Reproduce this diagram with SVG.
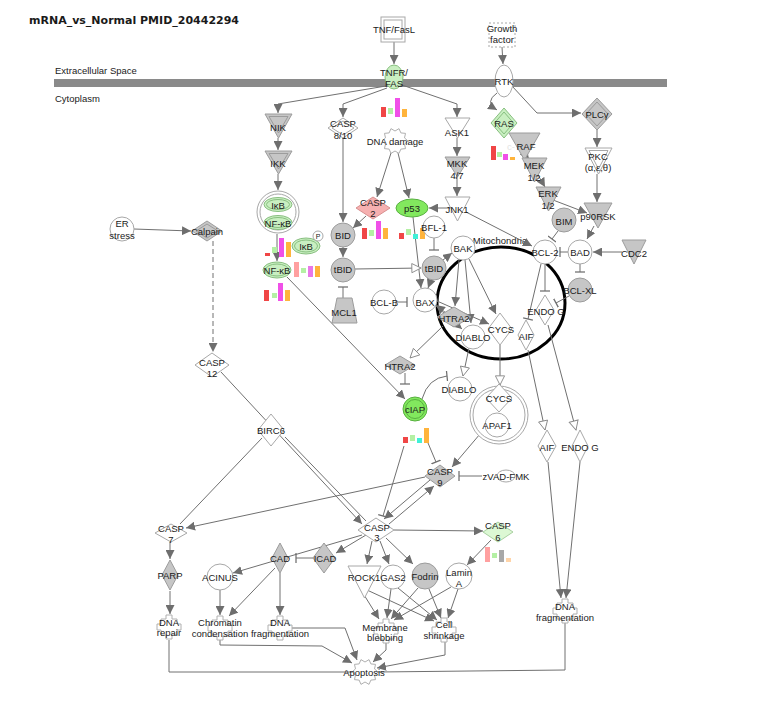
<svg xmlns="http://www.w3.org/2000/svg" width="771" height="722" viewBox="0 0 771 722">
<defs>
<style>
text{font-family:"Liberation Sans",Arial,sans-serif;font-size:9.5px;fill:#1a1a1a;text-anchor:middle}
.lbl{text-anchor:start}
.title{font-family:"DejaVu Sans",Verdana,sans-serif;font-size:11px;font-weight:bold;text-anchor:start}
.l{fill:none;stroke:#707070;stroke-width:1}
.ar{marker-end:url(#ah)}
.op{marker-end:url(#oh)}
.tt{marker-end:url(#tb)}
.dash{stroke-dasharray:5,3}
.g{fill:#c6c6c6;stroke:#9c9c9c;stroke-width:1}
.w{fill:#ffffff;stroke:#a8a8a8;stroke-width:1}
.lg{fill:#c9efc1;stroke:#88bf80;stroke-width:1}
.bg{fill:#82e85e;stroke:#58b040;stroke-width:1}
.pk{fill:#f6b0b0;stroke:#d89090;stroke-width:1}
.vg{fill:#dcf8d4;stroke:#a8d0a0;stroke-width:1}
.br{fill:#f04646}.bgr{fill:#b4f0a4}.bm{fill:#f050e8}.bo{fill:#ffb43c}.bp{fill:#ffa0a0}.bv{fill:#e878e8}.bc{fill:#40f0d8}.bgy{fill:#a8a8a8}.bpe{fill:#ffd4a8}
</style>
<marker id="ah" viewBox="0 0 10 10" refX="10" refY="5" markerWidth="9" markerHeight="9" markerUnits="userSpaceOnUse" orient="auto"><path d="M0,0 L10,5 L0,10 z" fill="#6e6e6e"/></marker>
<marker id="oh" viewBox="0 0 12 12" refX="11" refY="6" markerWidth="11" markerHeight="11" markerUnits="userSpaceOnUse" orient="auto"><path d="M1,1 L11,6 L1,11 z" fill="#ffffff" stroke="#888888" stroke-width="1"/></marker>
<marker id="tb" viewBox="0 0 4 12" refX="2" refY="6" markerWidth="4" markerHeight="10" markerUnits="userSpaceOnUse" orient="auto"><path d="M2,0 V12" stroke="#6e6e6e" stroke-width="1.5"/></marker>
<path id="fn" d="M-3,-12 H3 V-8 H8 V-3 H12 V3 H8 V8 H3 V12 H-3 V8 H-8 V3 H-12 V-3 H-8 V-8 H-3 Z" fill="#ffffff" stroke="#b0b0b0" stroke-width="1"/>
<polygon id="gear" points="13,0 9.51,3.09 10.52,7.64 5.88,8.09 4.02,12.36 0,10 -4.02,12.36 -5.88,8.09 -10.52,7.64 -9.51,3.09 -13,0 -9.51,-3.09 -10.52,-7.64 -5.88,-8.09 -4.02,-12.36 0,-10 4.02,-12.36 5.88,-8.09 10.52,-7.64 9.51,-3.09" fill="#ffffff" stroke="#b0b0b0" stroke-width="1"/>
</defs>
<rect width="771" height="722" fill="#ffffff"/>
<text class="title" x="29" y="24">mRNA_vs_Normal PMID_20442294</text>
<text class="lbl" x="55" y="73.5">Extracellular Space</text>
<rect x="54" y="79" width="613" height="8" fill="#8a8a8a"/>
<text class="lbl" x="55" y="101.5">Cytoplasm</text>

<ellipse id="mitochondria-outline" cx="501" cy="303" rx="64" ry="56" fill="none" stroke="#000000" stroke-width="3"/>
<text x="500" y="244">Mitochondria</text>

<g id="connectors">
<path class="l ar" d="M394,42 L394,64"/>
<path class="l ar" d="M502,47 L503,64"/>
<path class="l ar" d="M386,86 L278,104 L278,113"/>
<path class="l ar" d="M387,88 L343,104 L343,117"/>
<path class="l ar" d="M402,85 L457,104 L457,117"/>
<path class="l ar" d="M278,138 L278,150"/>
<path class="l ar" d="M278,174 L278,190"/>
<path class="l ar" d="M343,138 L343,222"/>
<path class="l ar" d="M391,153 L377,197"/>
<path class="l ar" d="M398,153 L409,198"/>
<path class="l ar" d="M457,138 L457,156"/>
<path class="l ar" d="M457,177 L457,196"/>
<path class="l ar" d="M450,208 L429,208"/>
<path class="l ar" d="M466,212 L532,246"/>
<path class="l ar" d="M497,93 Q484,102 497,110"/>
<path class="l ar" d="M512,86 L537,113 L581,113"/>
<path class="l ar" d="M522,150 L529,159"/>
<path class="l ar" d="M538,175 L545,187"/>
<path class="l ar" d="M553,200 L587,213"/>
<path class="l ar" d="M597,130 L597,147"/>
<path class="l ar" d="M597,174 L597,202"/>
<path class="l ar" d="M594,226 L587,239"/>
<path class="l tt" d="M558,231 L552,239"/>
<path class="l tt" d="M568,252 L560,252"/>
<path class="l ar" d="M622,252 L593,252"/>
<path class="l tt" d="M580,264 L580,272"/>
<path class="l tt" d="M545,264 L545,291"/>
<path class="l tt" d="M569,296 L556,303"/>
<path class="l tt" d="M541,264 L528,319"/>
<path class="l ar" d="M443,260 L452,253"/>
<path class="l tt" d="M434,238 L434,250"/>
<path class="l ar" d="M413,217 L421,288"/>
<path class="l ar" d="M431,280 L428,288"/>
<path class="l op" d="M355,269 L421,268"/>
<path class="l ar" d="M343,247 L343,257"/>
<path class="l ar" d="M366,216 L353,228"/>
<path class="l tt" d="M343,298 L343,287"/>
<path class="l tt" d="M396,302 L407,302"/>
<path class="l ar" d="M459,260 L455,306"/>
<path class="l ar" d="M465,260 L471,323"/>
<path class="l ar" d="M469,259 L496,314"/>
<path class="l ar" d="M446,313 L436,305"/>
<path class="l ar" d="M436,306 L462,329"/>
<path class="l ar" d="M437,301 L489,324"/>
<path class="l op" d="M443,326 L410,358"/>
<path class="l op" d="M469,348 L463,376"/>
<path class="l op" d="M500,345 L500,385"/>
<path class="l tt" d="M405,373 L405,384"/>
<path class="l tt" d="M422,399 Q428,378 447,376"/>
<path class="l ar" d="M287,277 L405,399"/>
<path class="l tt" d="M428,443 L436,462"/>
<path class="l tt" d="M404,446 L383,516"/>
<path class="l ar" d="M480,434 L452,467"/>
<path class="l tt" d="M482,476 L459,476"/>
<path class="l ar" d="M430,480 L384,519"/>
<path class="l ar" d="M389,524 L434,486"/>
<path class="l ar" d="M425,477 L186,528"/>
<path class="l ar" d="M221,372 L362,524"/>
<path class="l" d="M285,437 L366,521"/>
<path class="l" d="M262,438 L180,524"/>
<path class="l ar" d="M170,542 L170,559"/>
<path class="l ar" d="M170,591 L170,614"/>
<path class="l" d="M169,640 L169,672 L352,672"/>
<path class="l ar" d="M366,535 L336,553"/>
<path class="l ar" d="M362,535 L233,573"/>
<path class="l tt" d="M313,558 L296,558"/>
<path class="l ar" d="M275,568 L229,616"/>
<path class="l ar" d="M280,573 L280,615"/>
<path class="l ar" d="M220,590 L220,615"/>
<path class="l ar" d="M220,639 L220,645 L322,646 L352,663"/>
<path class="l ar" d="M292,628 L345,628 L357,660"/>
<path class="l ar" d="M372,541 L367,564"/>
<path class="l ar" d="M380,541 L389,564"/>
<path class="l ar" d="M386,538 L413,564"/>
<path class="l ar" d="M394,530 L483,531"/>
<path class="l ar" d="M491,540 L467,565"/>
<path class="l ar" d="M361,590 L379,619"/>
<path class="l ar" d="M367,590 L434,621"/>
<path class="l ar" d="M391,589 L387,618"/>
<path class="l ar" d="M398,588 L437,620"/>
<path class="l ar" d="M418,588 L391,619"/>
<path class="l ar" d="M429,589 L441,618"/>
<path class="l ar" d="M451,587 L394,620"/>
<path class="l ar" d="M458,589 L448,618"/>
<path class="l ar" d="M386,641 L386,650 L373,662"/>
<path class="l ar" d="M445,641 L445,655 L377,668"/>
<path class="l" d="M565,623 L565,670 L378,672"/>
<path class="l ar" d="M548,462 L561,598"/>
<path class="l ar" d="M580,462 L566,598"/>
<path class="l op" d="M528,350 L545,430"/>
<path class="l op" d="M548,325 L576,430"/>
<path class="l ar" d="M134,229 L191,231"/>
<path class="l ar dash" d="M213,241 L213,352"/>
<path class="l ar" d="M277,234 L277,261"/>
</g>

<g id="TNF-FasL"><rect x="381" y="17" width="24" height="25" class="w"/><rect x="384" y="20" width="18" height="19" class="w"/><text x="394" y="33">TNF/FasL</text></g>
<g id="Growth-factor"><rect x="489" y="23" width="26" height="24" fill="#fff" stroke="#a8a8a8" stroke-dasharray="2,2"/><text x="502" y="32">Growth</text><text x="502" y="43">factor</text></g>
<g id="TNFR-FAS"><ellipse cx="394" cy="77" rx="9" ry="12" class="lg"/><text x="394" y="75.5">TNFR/</text><text x="394" y="87">FAS</text>
<rect x="381" y="107" width="5" height="10" class="br"/><rect x="388" y="108" width="5" height="6" class="bgr"/><rect x="395" y="98" width="5" height="19" class="bm"/><rect x="402" y="109" width="5" height="8" class="bo"/></g>
<g id="RTK"><ellipse cx="504" cy="81" rx="9" ry="16" class="w"/><text x="504" y="84.5">RTK</text></g>
<g id="NIK"><polygon points="265,114 292,114 278.5,138" class="g"/><polygon points="269,116.5 288,116.5 278.5,133" class="g"/><text x="278" y="130.5">NIK</text></g>
<g id="IKK"><polygon points="265,151 292,151 278.5,174" class="g"/><polygon points="269,153.5 288,153.5 278.5,169" class="g"/><text x="278" y="167">IKK</text></g>
<g id="IkB-NFkB-complex"><circle cx="278" cy="212" r="21" class="w"/><circle cx="278" cy="212" r="18" class="w"/>
<ellipse cx="278" cy="204.5" rx="14" ry="7" class="lg"/><ellipse cx="278" cy="204.5" rx="11.5" ry="5" class="lg"/><text x="278" y="208.5">IκB</text>
<ellipse cx="278" cy="222.5" rx="14" ry="7" class="lg"/><ellipse cx="278" cy="222.5" rx="11.5" ry="5" class="lg"/><text x="278" y="226.5">NF-κB</text></g>
<g id="CASP8-10"><polygon points="328,128 343,118 358,128 343,138" class="w"/><polygon points="332,128 343,121 354,128 343,135" class="w"/><text x="343" y="126.5">CASP</text><text x="343" y="138.5">8/10</text></g>
<g id="DNA-damage"><use href="#gear" x="395" y="141"/><text x="395" y="144.5">DNA damage</text></g>
<g id="ASK1"><polygon points="445,118 470,118 457.5,138" class="w"/><text x="457" y="135.5">ASK1</text></g>
<g id="MKK4-7"><polygon points="445,157 470,157 457.5,177" class="g"/><text x="457" y="166.5">MKK</text><text x="457" y="179">4/7</text></g>
<g id="JNK1"><polygon points="445,197 470,197 457.5,221" class="w"/><text x="457" y="212.5">JNK1</text></g>
<g id="RAS"><polygon points="491,123 504,108 517,123 504,138" class="lg"/><polygon points="494.5,123 504,112 513.5,123 504,134" class="lg"/><text x="504" y="126.5">RAS</text>
<rect x="491" y="146" width="5" height="14" class="br"/><rect x="497" y="152" width="5" height="5" class="bgr"/><rect x="503" y="154" width="5" height="6" class="bm"/><rect x="510" y="157" width="5" height="3" class="bo"/></g>
<g id="c-RAF"><polygon points="509,133 540,133 524.5,160" class="g"/><text x="526" y="149.5">RAF</text><text x="511" y="149.5" fill="#e4e4e4" style="fill:#e4e4e4">c-</text></g>
<g id="MEK1-2"><polygon points="522,158 547,158 534.5,182" class="g"/><text x="534" y="168.5">MEK</text><text x="534" y="180.5">1/2</text></g>
<g id="ERK1-2"><polygon points="536,187 561,187 548.5,211" class="g"/><text x="548" y="196.5">ERK</text><text x="548" y="208.5">1/2</text></g>
<g id="PLCg"><polygon points="582,114 597,98 612,114 597,130" class="g"/><polygon points="586,114 597,102 608,114 597,126" class="g"/><text x="597" y="117.5">PLCγ</text></g>
<g id="PKC"><polygon points="585,148 612,148 598.5,174" class="w"/><polygon points="589,150.5 608,150.5 598.5,169" class="w"/><text x="598" y="159.5">PKC</text><text x="598" y="170.5">(α,ε,θ)</text></g>
<g id="p90RSK"><polygon points="584,203 612,203 598,228" class="g"/><text x="598" y="219.5">p90RSK</text></g>
<g id="BIM"><circle cx="564" cy="220" r="12" class="g"/><text x="564" y="224.5">BIM</text></g>
<g id="CASP2"><polygon points="356,208 373,197 390,208 373,219" class="pk"/><text x="373" y="205.5">CASP</text><text x="373" y="216.5">2</text>
<rect x="362" y="228" width="5" height="11" class="br"/><rect x="369" y="230" width="5" height="6" class="bgr"/><rect x="376" y="221" width="5" height="18" class="bm"/><rect x="383" y="228" width="5" height="11" class="bo"/></g>
<g id="p53"><ellipse cx="412" cy="208" rx="16" ry="9" class="bg"/><text x="412" y="211.5">p53</text>
<rect x="399" y="233" width="5" height="6" class="br"/><rect x="406" y="229" width="5" height="6" class="bgr"/><rect x="413" y="234" width="5" height="5" class="bc"/><rect x="420" y="228" width="5" height="11" class="bo"/></g>
<g id="BID"><circle cx="343" cy="235" r="12" class="g"/><text x="343" y="239">BID</text></g>
<g id="tBID-1"><circle cx="343" cy="270" r="12" class="g"/><text x="343" y="273">tBID</text></g>
<g id="MCL1"><polygon points="337,298 352,298 357,323 332,323" class="g"/><text x="344" y="315.5">MCL1</text></g>
<g id="BFL-1"><circle cx="434" cy="227" r="11" class="w"/><text x="434" y="231">BFL-1</text></g>
<g id="BAK"><circle cx="463" cy="248" r="12" class="w"/><text x="463" y="251.5">BAK</text></g>
<g id="BCL-2"><circle cx="545" cy="252" r="12" class="w"/><text x="545" y="256">BCL-2</text></g>
<g id="BAD"><circle cx="580" cy="252" r="12" class="w"/><text x="580" y="256">BAD</text></g>
<g id="CDC2"><polygon points="622,240 646,240 634,264" class="g"/><text x="634" y="256.5">CDC2</text></g>
<g id="BCL-XL"><circle cx="580" cy="290" r="12" class="g"/><text x="580" y="293.5">BCL-XL</text></g>
<g id="ENDOG-mito"><polygon points="536,310 545,295 554,310 545,325" class="w"/><text x="546" y="314.5">ENDO G</text></g>
<g id="AIF-mito"><polygon points="518,335 526,320 534,335 526,350" class="w"/><text x="526" y="339.5">AIF</text></g>
<g id="tBID-2"><circle cx="434" cy="268" r="12" class="g"/><text x="434" y="271.5">tBID</text></g>
<g id="BAX"><circle cx="425" cy="300" r="12" class="w"/><text x="425" y="305.5">BAX</text></g>
<g id="BCL-B"><circle cx="384" cy="302" r="12" class="w"/><text x="384" y="306">BCL-B</text></g>
<g id="HTRA2-mito"><polygon points="437,317 454,307 471,317 454,327" class="g"/><text x="454" y="321.5">HTRA2</text></g>
<g id="DIABLO-mito"><circle cx="473" cy="337" r="12" class="w"/><text x="473" y="341">DIABLO</text></g>
<g id="CYCS-mito"><polygon points="488,329 500,313 512,329 500,345" class="w"/><text x="501" y="332.5">CYCS</text></g>
<g id="HTRA2"><polygon points="385,365 400,356 415,365 400,374" class="g"/><text x="400" y="369.5">HTRA2</text></g>
<g id="DIABLO"><circle cx="460" cy="389" r="12" class="w"/><text x="459" y="392.5">DIABLO</text></g>
<g id="CYCS-APAF1"><circle cx="499" cy="415" r="29" class="w"/><circle cx="499" cy="415" r="26" class="w"/>
<polygon points="486,398 499,384 512,398 499,412" class="w"/><text x="499" y="401.5">CYCS</text>
<circle cx="497" cy="425" r="12" class="w"/><text x="497" y="428.5">APAF1</text></g>
<g id="cIAP"><circle cx="415" cy="409" r="12" class="bg"/><circle cx="415" cy="409" r="9.5" class="bg"/><text x="415" y="412.5">cIAP</text>
<rect x="403" y="437" width="5" height="6" class="br"/><rect x="410" y="435" width="5" height="6" class="bgr"/><rect x="417" y="438" width="5" height="5" class="bc"/><rect x="424" y="428" width="5" height="15" class="bo"/></g>
<g id="IkB-P"><ellipse cx="306" cy="246" rx="14" ry="8" class="lg"/><ellipse cx="306" cy="246" rx="11.5" ry="6" class="lg"/><text x="306" y="249.5">IκB</text>
<circle cx="318" cy="236" r="5" class="w"/><text x="318" y="238.5" style="font-size:7px">P</text>
<rect x="265" y="253" width="5" height="3" class="br"/><rect x="272" y="247" width="5" height="6" class="bgr"/><rect x="279" y="238" width="5" height="19" class="bm"/><rect x="286" y="242" width="5" height="15" class="bo"/></g>
<g id="NF-kB"><ellipse cx="277" cy="270" rx="14" ry="8" class="lg"/><ellipse cx="277" cy="270" rx="11.5" ry="6" class="lg"/><text x="277" y="273.5">NF-κB</text>
<rect x="294" y="262" width="5" height="15" class="bp"/><rect x="301" y="268" width="5" height="5" class="bgr"/><rect x="308" y="266" width="5" height="11" class="bv"/><rect x="315" y="266" width="5" height="11" class="bo"/>
<rect x="264" y="290" width="5" height="11" class="br"/><rect x="272" y="293" width="5" height="5" class="bgr"/><rect x="278" y="283" width="5" height="18" class="bm"/><rect x="285" y="290" width="5" height="11" class="bo"/></g>
<g id="Calpain"><polygon points="192,231 207,221 222,231 207,241" class="g"/><polygon points="196,231 207,224 218,231 207,238" class="g"/><text x="207" y="234.5">Calpain</text></g>
<g id="ER-stress"><circle cx="122" cy="229" r="12" class="w"/><text x="122" y="226.5">ER</text><text x="122" y="238.5">stress</text></g>
<g id="CASP12"><polygon points="195,365 212,353 229,365 212,377" class="w"/><text x="212" y="365.5">CASP</text><text x="212" y="376.5">12</text></g>
<g id="BIRC6"><polygon points="258,430 271,414 284,430 271,446" class="w"/><text x="271" y="433.5">BIRC6</text></g>
<g id="CASP9"><polygon points="425,476 440,465 455,476 440,487" class="g"/><text x="440" y="474.5">CASP</text><text x="440" y="485.5">9</text></g>
<g id="zVAD-FMK"><ellipse cx="506" cy="476" rx="9" ry="6" class="w"/><text x="506" y="479.5">zVAD-FMK</text></g>
<g id="CASP3"><polygon points="358,530 376,518 394,530 376,542" class="w"/><text x="377" y="530.5">CASP</text><text x="377" y="541">3</text></g>
<g id="CASP6"><polygon points="483,532 498,522 513,532 498,542" class="vg"/><text x="498" y="528.5">CASP</text><text x="498" y="540.5">6</text>
<rect x="485" y="547" width="5" height="15" class="bp"/><rect x="492" y="553" width="5" height="5" class="bgr"/><rect x="499" y="550" width="5" height="12" class="bgy"/><rect x="506" y="558" width="5" height="4" class="bpe"/></g>
<g id="CASP7"><polygon points="155,533 171,524 187,533 171,542" class="w"/><text x="171" y="531.5">CASP</text><text x="171" y="542.5">7</text></g>
<g id="PARP"><polygon points="162,575 170,560 178,575 170,590" class="g"/><text x="170" y="578.5">PARP</text></g>
<g id="DNA-repair"><use href="#fn" x="169" y="627"/><text x="169" y="625.5">DNA</text><text x="169" y="635.5">repair</text></g>
<g id="CAD"><polygon points="272,558 280,543 288,558 280,573" class="g"/><text x="280" y="561.5">CAD</text></g>
<g id="ICAD"><polygon points="313,558 324,543 335,558 324,573" class="g"/><text x="325" y="561.5">ICAD</text></g>
<g id="ACINUS"><circle cx="220" cy="577" r="13" class="w"/><text x="220" y="581">ACINUS</text></g>
<g id="Chromatin-condensation"><use href="#fn" x="220" y="628"/><text x="220" y="625.5">Chromatin</text><text x="220" y="636.5">condensation</text></g>
<g id="DNA-fragmentation-1"><use href="#fn" x="280" y="628"/><text x="280" y="625.5">DNA</text><text x="280" y="636.5">fragmentation</text></g>
<g id="ROCK1"><polygon points="348,566 381,566 364.5,598" class="w"/><text x="364" y="580.5">ROCK1</text></g>
<g id="GAS2"><circle cx="393" cy="577" r="12" class="w"/><text x="393" y="580.5">GAS2</text></g>
<g id="Fodrin"><circle cx="425" cy="576" r="13" class="g"/><text x="425" y="580">Fodrin</text></g>
<g id="LaminA"><circle cx="459" cy="576" r="13" class="w"/><text x="459" y="575.5">Lamin</text><text x="459" y="586.5">A</text></g>
<g id="Membrane-blebbing"><use href="#fn" x="386" y="631"/><text x="385" y="630.5">Membrane</text><text x="385" y="640.5">blebbing</text></g>
<g id="Cell-shrinkage"><use href="#fn" x="444" y="630"/><text x="444" y="627.5">Cell</text><text x="444" y="638.5">shrinkage</text></g>
<g id="Apoptosis"><use href="#gear" x="365" y="672"/><text x="364" y="675.5">Apoptosis</text></g>
<g id="DNA-fragmentation-2"><use href="#fn" x="565" y="611"/><text x="565" y="609.5">DNA</text><text x="565" y="620.5">fragmentation</text></g>
<g id="AIF"><polygon points="538,446 547,430 556,446 547,462" class="w"/><text x="547" y="450.5">AIF</text></g>
<g id="ENDOG"><polygon points="572,446 580,430 588,446 580,462" class="w"/><text x="580" y="450.5">ENDO G</text></g>
</svg>
